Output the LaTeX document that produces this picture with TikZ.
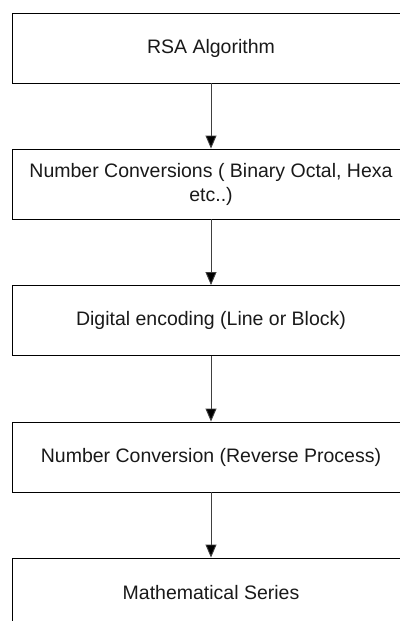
\documentclass[tikz,border=0pt]{standalone}
\usepackage{fontspec}
\setmainfont{Liberation Sans}
\usetikzlibrary{arrows.meta}
\begin{document}
\begin{tikzpicture}[x=1pt,y=1pt,
  stepbox/.style={draw=black,line width=0.9pt,minimum width=398pt,minimum height=70pt,
    inner sep=0pt,align=center,font=\fontsize{19.5}{24}\selectfont,text=black!90},
  flow/.style={draw=black!75,line width=0.9pt,-{Triangle[length=13pt,width=11pt,fill=black]}}]
\useasboundingbox (0,0) rectangle (399,-621);
\node[stepbox] (b1) at (211,-48) {RSA Algorithm};
\node[stepbox] (b2) at (211,-184) {Number Conversions ( Binary Octal, Hexa\\etc..)};
\node[stepbox] (b3) at (211,-320.5) {Digital encoding (Line or Block)};
\node[stepbox] (b4) at (211,-457) {Number Conversion (Reverse Process)};
\node[stepbox] (b5) at (211,-593) {Mathematical Series};
\draw[flow] (b1) -- (b2);
\draw[flow] (b2) -- (b3);
\draw[flow] (b3) -- (b4);
\draw[flow] (b4) -- (b5);
\end{tikzpicture}
\end{document}
